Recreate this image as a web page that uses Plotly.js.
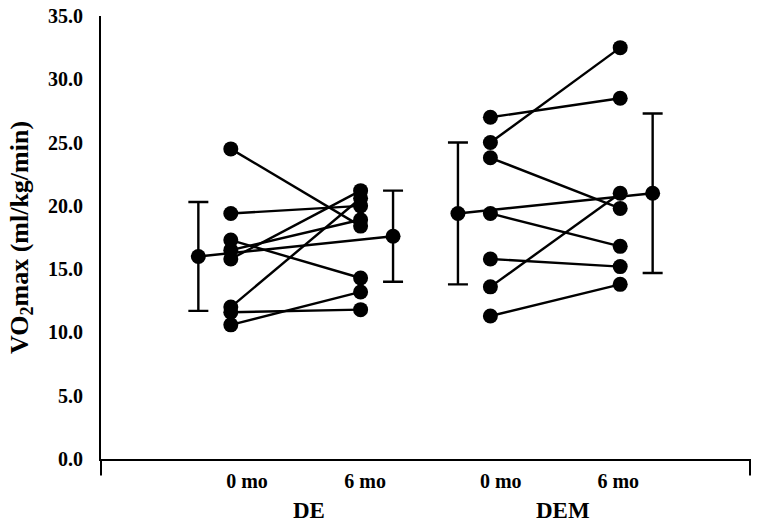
<!DOCTYPE html>
<html>
<head>
<meta charset="utf-8">
<script src="https://cdn.plot.ly/plotly-3.0.1.min.js"></script>
<style>html,body{margin:0;padding:0;background:#fff;}#chart{width:762px;height:525px;}</style>
</head>
<body>
<div id="chart"></div>
<script>
// ---- data ----
const groups = ["DE", "DEM"];
const timeLabels = ["0 mo", "6 mo", "0 mo", "6 mo"];
const de0 = [24.5, 19.4, 17.3, 16.5, 15.8, 12.0, 11.6, 10.6];
const de6 = [18.4, 20.0, 14.3, 18.9, 21.2, 20.6, 11.8, 13.2];
const dem0 = [27.0, 25.0, 23.8, 19.4, 15.8, 13.6, 11.3];
const dem6 = [28.5, 32.5, 19.8, 16.8, 15.2, 21.0, 13.8];
const deMean = [16.0, 17.6];
const deSD = [4.3, 3.6];
const demMean = [19.4, 21.0];
const demSD = [5.6, 6.3];
const yTicks = [0, 5, 10, 15, 20, 25, 30, 35];

// ---- positions on the x axis (layout) ----
const xDE = [2, 4], xDEM = [6, 8];
const xDEmean = [1.5, 4.5], xDEMmean = [5.5, 8.5];
const xTickPos = [2.25, 4.07, 6.16, 7.97];
const xGroupPos = [3.2, 7.12];

function paired(xs, a, b) {
  const x = [], y = [];
  for (let i = 0; i < a.length; i++) {
    x.push(xs[0], xs[1], null);
    y.push(a[i], b[i], null);
  }
  return {x, y};
}

const black = '#000';
const mk = {color: black, size: 15};
const ln = {color: black, width: 2.4};

const pDE = paired(xDE, de0, de6);
const pDEM = paired(xDEM, dem0, dem6);

const traces = [
  {x: pDE.x, y: pDE.y, mode: 'lines+markers', marker: mk, line: ln, hoverinfo: 'skip'},
  {x: pDEM.x, y: pDEM.y, mode: 'lines+markers', marker: mk, line: ln, hoverinfo: 'skip'},
  {x: xDEmean, y: deMean, mode: 'lines+markers', marker: mk, line: ln,
   error_y: {type: 'data', array: deSD, visible: true, color: black, thickness: 2.4, width: 10}},
  {x: xDEMmean, y: demMean, mode: 'lines+markers', marker: mk, line: ln,
   error_y: {type: 'data', array: demSD, visible: true, color: black, thickness: 2.4, width: 10}}
];

const serif = 'Liberation Serif, Times New Roman, serif';

const layout = {
  width: 762, height: 525,
  margin: {l: 101, r: 12, t: 16, b: 66},
  paper_bgcolor: '#fff', plot_bgcolor: '#fff',
  showlegend: false,
  font: {family: serif, color: black},
  xaxis: {
    range: [0, 10], showgrid: false, zeroline: false,
    showline: true, linecolor: black, linewidth: 2,
    tickmode: 'array', tickvals: xTickPos, ticktext: timeLabels,
    ticks: 'outside', ticklen: 3, tickcolor: 'rgba(0,0,0,0)',
    tickfont: {family: serif, size: 20, weight: 'bold', color: black}
  },
  yaxis: {
    range: [0, 35], showgrid: false, zeroline: false,
    showline: true, linecolor: black, linewidth: 2,
    tickmode: 'array', tickvals: yTicks, tickformat: '.1f',
    ticks: 'outside', ticklen: 12, tickcolor: 'rgba(0,0,0,0)',
    tickfont: {family: serif, size: 20, weight: 'bold', color: black},
    title: {text: 'VO<sub>2</sub>max (ml/kg/min)', standoff: 12,
            font: {family: serif, size: 26, weight: 'bold', color: black}}
  },
  annotations: groups.map((g, i) => ({
    x: xGroupPos[i], xref: 'x', y: -0.117, yref: 'paper',
    text: g, showarrow: false, yanchor: 'middle', xanchor: 'center',
    font: {family: serif, size: 23, weight: 'bold', color: black}
  })),
  shapes: [
    {type: 'line', xref: 'paper', yref: 'paper', x0: 0, x1: 0, y0: 0, y1: -0.037,
     line: {color: black, width: 2}},
    {type: 'line', xref: 'paper', yref: 'paper', x0: 1, x1: 1, y0: 0, y1: -0.037,
     line: {color: black, width: 2}}
  ]
};

Plotly.newPlot('chart', traces, layout, {displayModeBar: false, staticPlot: true});
</script>
</body>
</html>
